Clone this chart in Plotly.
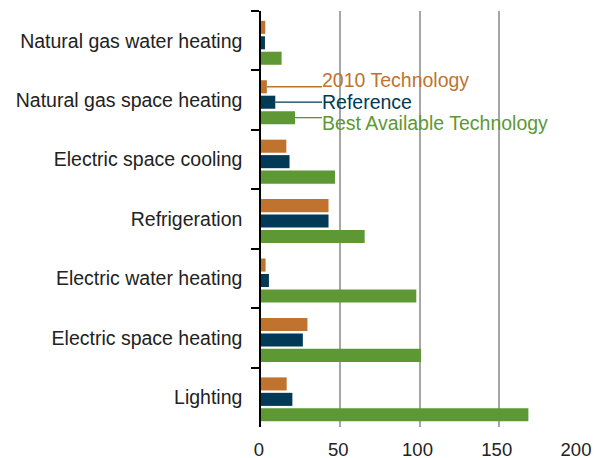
import plotly.graph_objects as go

categories = [
    "Natural gas water heating",
    "Natural gas space heating",
    "Electric space cooling",
    "Refrigeration",
    "Electric water heating",
    "Electric space heating",
    "Lighting",
]
series_names = ["2010 Technology", "Reference", "Best Available Technology"]
tech_2010 = [2.7, 3.7, 16, 42.6, 2.9, 29.3, 16.2]
reference = [2.5, 9, 18, 42.6, 5, 26.4, 19.8]
best_available = [13, 21.5, 46.7, 65.4, 98, 101, 168.7]
x_ticks = [0, 50, 100, 150, 200]

colors = ["#C0732F", "#003A56", "#5E9834"]
FONT = "Liberation Sans, Arial, sans-serif"
FS = 19.5

# bar placement within each category (category units, axis reversed)
bar_width = 0.22
bar_offsets = [-0.335, -0.075, 0.185]

fig = go.Figure()
series = [tech_2010, reference, best_available]
for name, vals, col, off in zip(series_names, series, colors, bar_offsets):
    fig.add_trace(go.Bar(
        y=categories, x=vals, name=name, orientation="h",
        width=bar_width, offset=off,
        marker=dict(color=col, line=dict(width=0)),
    ))

# leader lines + labels for the "Natural gas space heating" group
label_cat = 1
label_x = 38.5
yshifts = [6.5, 0, -5.5]
for i, (name, vals, col) in enumerate(zip(series_names, series, colors)):
    yc = label_cat + bar_offsets[i] + bar_width / 2
    fig.add_shape(type="line", xref="x", yref="y",
                  x0=vals[label_cat], x1=label_x, y0=yc, y1=yc,
                  line=dict(color=col, width=1.3))
    fig.add_annotation(x=label_x, y=yc, xref="x", yref="y", text=name,
                       showarrow=False, xanchor="left", yanchor="middle",
                       yshift=yshifts[i], xshift=-2,
                       font=dict(family=FONT, size=FS, color=col))

fig.update_layout(
    width=594, height=458,
    margin=dict(l=261, r=16, t=11, b=31, autoexpand=False),
    barmode="group",
    showlegend=False,
    plot_bgcolor="white", paper_bgcolor="white",
    font=dict(family=FONT, size=FS, color="#222222"),
)
fig.update_xaxes(
    range=[0, 200], tickvals=x_ticks, showgrid=True, gridcolor="#A6A6A6",
    gridwidth=1.5, zeroline=False, showline=False, ticks="",
    tickfont=dict(size=18.5, color="#222222"), automargin=False,
    ticklabelstandoff=9, ticklabelshift=-2, ticklabeloverflow="allow",
)
fig.update_yaxes(
    categoryorder="array", categoryarray=categories, autorange="reversed",
    showline=True, linecolor="black", linewidth=1.5,
    ticks="outside", tickson="boundaries", ticklen=8, tickcolor="black",
    tickwidth=1.5, showgrid=False, ticklabelstandoff=13,
    tickfont=dict(size=FS, color="#222222"), automargin=False,
)

fig.write_html(
    "out.html",
    config={"displayModeBar": False},
    post_script="document.body.style.margin='0';document.body.style.overflow='hidden';",
)
